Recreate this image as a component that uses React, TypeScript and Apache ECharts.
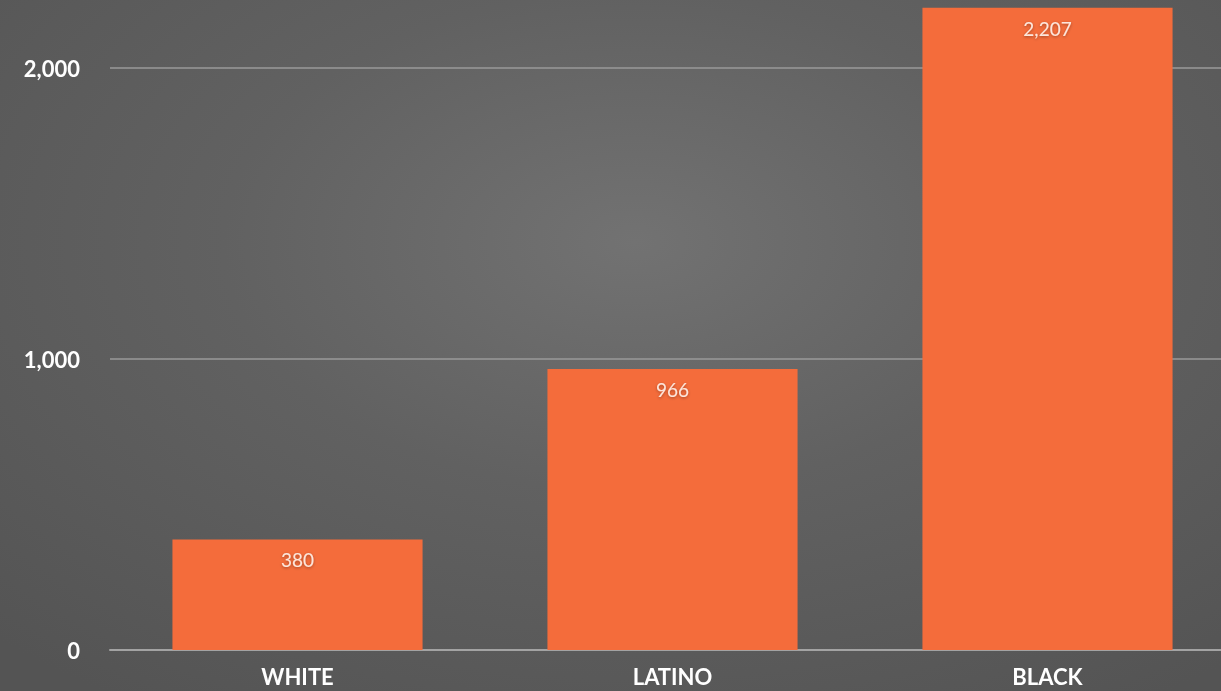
import React, { useEffect, useRef } from "react";
import * as echarts from "echarts";

const categories = ["WHITE", "LATINO", "BLACK"];
const values = [380, 966, 2207];
const yTicks = [0, 1000, 2000, 3000];

export default function App() {
  const ref = useRef<HTMLDivElement>(null);
  useEffect(() => {
    const chart = echarts.init(ref.current!, null, { renderer: "svg" });
    chart.setOption({
      animation: false,
      backgroundColor: "transparent",
      grid: { left: 110, right: 0, top: 0, bottom: 41, containLabel: false },
      xAxis: {
        type: "category",
        data: categories,
        axisLine: { show: true, lineStyle: { color: "#a3a3a3", width: 2 } },
        axisTick: { show: false },
        axisLabel: {
          color: "#ffffff",
          fontFamily: "Lato",
          fontWeight: "bold",
          fontSize: 22,
          margin: 15,
        },
      },
      yAxis: {
        type: "value",
        min: yTicks[0],
        max: yTicks[yTicks.length - 1],
        interval: 1000,
        axisLine: { show: false },
        axisTick: { show: false },
        splitLine: { lineStyle: { color: "#9a9a9a", width: 1.5 } },
        axisLabel: {
          color: "#ffffff",
          fontFamily: "Lato",
          fontWeight: "bold",
          fontSize: 22,
          margin: 30,
          showMaxLabel: false,
          formatter: (v: number) => v.toLocaleString("en-US"),
        },
      },
      series: [
        {
          type: "bar",
          data: values,
          barCategoryGap: "33.3%",
          itemStyle: { color: "#f46c3b" },
          label: {
            show: true,
            position: "insideTop",
            distance: 11,
            color: "#fbe6dc",
            fontFamily: "Lato",
            fontSize: 19,
            textShadowColor: "rgba(0,0,0,0.35)",
            textShadowBlur: 3,
            textShadowOffsetY: 1,
            formatter: (p: any) => Number(p.value).toLocaleString("en-US"),
          },
        },
      ],
    });
    return () => chart.dispose();
  }, []);
  return (
    <div
      style={{
        position: "fixed",
        left: 0,
        top: 0,
        width: 1221,
        height: 691,
        overflow: "hidden",
        background:
          "radial-gradient(ellipse 75% 80% at 52% 35%, #727272 0%, #616161 45%, #545454 100%)",
      }}
    >
      <div
        ref={ref}
        style={{ position: "absolute", left: 0, top: -223, width: 1235, height: 914 }}
      />
    </div>
  );
}
